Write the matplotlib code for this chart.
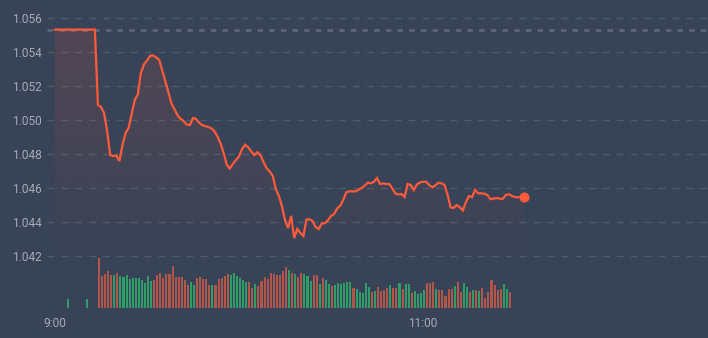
import numpy as np
import matplotlib
matplotlib.use("Agg")
import matplotlib.pyplot as plt
from matplotlib.colors import to_rgb

# ---------------- data ----------------
prev_close = 1.0553
# minute index from 9:00
pre_prices = [1.0553] * 14          # minutes 0..13
prices_main = [                      # minutes 14..153
    1.05086, 1.05075, 1.05039, 1.04934, 1.04792, 1.04786, 1.04789, 1.04757, 1.04851, 1.04922,
    1.04951, 1.05034, 1.05116, 1.05148, 1.05275, 1.05325, 1.05348, 1.05376, 1.05378, 1.05366,
    1.05351, 1.05289, 1.05225, 1.05160, 1.05095, 1.05060, 1.05025, 1.05004, 1.04991, 1.04971,
    1.04969, 1.05010, 1.05004, 1.04982, 1.04969, 1.04962, 1.04957, 1.04949, 1.04932, 1.04901,
    1.04860, 1.04804, 1.04736, 1.04713, 1.04740, 1.04763, 1.04784, 1.04828, 1.04853, 1.04838,
    1.04813, 1.04792, 1.04809, 1.04792, 1.04751, 1.04715, 1.04696, 1.04670, 1.04592, 1.04551,
    1.04492, 1.04410, 1.04363, 1.04434, 1.04304, 1.04357, 1.04334, 1.04316, 1.04413, 1.04414,
    1.04404, 1.04369, 1.04357, 1.04391, 1.04391, 1.04408, 1.04434, 1.04445, 1.04478, 1.04494,
    1.04528, 1.04573, 1.04579, 1.04579, 1.04578, 1.04588, 1.04598, 1.04613, 1.04629, 1.04626,
    1.04635, 1.04657, 1.04622, 1.04625, 1.04622, 1.04622, 1.04595, 1.04566, 1.04560, 1.04563,
    1.04545, 1.04622, 1.04616, 1.04586, 1.04619, 1.04631, 1.04635, 1.04635, 1.04616, 1.04602,
    1.04613, 1.04629, 1.04626, 1.04617, 1.04560, 1.04484, 1.04481, 1.04498, 1.04485, 1.04466,
    1.04516, 1.04551, 1.04545, 1.04587, 1.04567, 1.04567, 1.04565, 1.04557, 1.04532, 1.04536,
    1.04539, 1.04536, 1.04534, 1.04557, 1.04562, 1.04551, 1.04545, 1.04544, 1.04544, 1.04544,
]
prices = pre_prices + prices_main

auction_minutes = [4, 10]
auction_volumes = [8.7, 8.7]
auction_colors = "gg"
volume_start_minute = 14
volumes = [
    50, 31.7, 33.7, 36.7, 32.7, 32.7, 34.7, 31.7, 30.7, 32.7,
    28.7, 29.7, 29.7, 29.7, 27.7, 24.7, 31.7, 26.7, 27.7, 32.7,
    34.7, 29.7, 33.7, 33.7, 41.7, 30.7, 30.7, 30.7, 27.7, 22.7,
    25.7, 22.7, 29.7, 30.7, 28.7, 28.7, 22.7, 22.7, 22.7, 28.7,
    29.7, 31.7, 33.7, 32.7, 34.7, 31.7, 29.7, 27.7, 25.7, 25.7,
    19.7, 23.7, 21.7, 26.7, 30.7, 28.7, 34.7, 33.7, 32.7, 32.7,
    36.7, 40.7, 37.7, 34.7, 33.7, 30.7, 34.7,
    33.7, 31.7, 26.7, 32.7, 32.7, 23.7, 29.7, 27.7, 23.7, 21.7,
    22.7, 24.7, 23.7, 24.7, 25.7, 25.7, 19.7, 18.7, 15.7, 14.7,
    24.7, 20.7, 15.7, 16.7, 20.7, 16.7, 17.7, 19.7, 22.7, 19.7,
    19.7, 24.7, 18.7, 23.7, 23.7, 14.7, 16.7, 13.7, 14.7, 17.7,
    24.7, 24.7, 25.7, 18.7, 17.7, 17.7, 11.7, 18.7, 18.7, 21.7,
    25.7, 15.7, 24.7, 20.7, 15.7, 17.7, 17.7, 16.7, 19.7, 9.7,
    15.7, 27.7, 22.7, 17.7, 18.7, 23.7, 18.7, 15.7,
]
volume_colors = ("rrrrr" "g" "r" "ggggggggggg" "rrrrrrrrrrrr" "gg" "rrrrr" "g" "rrrrr"
                 "gggggg" "rr" "g" "rrrrrrrrrr" "g" "r" "g" "rr"
                 "ggg" "rr" "g" "r" "gg" "r" "gggggg" "r" "ggggg" "r" "g" "rrrr" "g" "rr"
                 "g" "r" "gg" "r" "gggg" "rrr" "g" "rrrrr" "g" "rr" "gg" "r" "g" "r" "g"
                 "rrrrrrr" "gg" "r")

y_ticks = [1.042, 1.044, 1.046, 1.048, 1.050, 1.052, 1.054, 1.056]
x_tick_minutes = [0, 120]
x_tick_labels = ["9:00", "11:00"]

# ---------------- style ----------------
BG = "#394357"
GRID = "#505a6c"
LINE = "#ff5b3b"
TXT = "#a3abb8"
RED = "#b0564b"
GREEN = "#2f9d68"

W, H = 708, 338
fig = plt.figure(figsize=(W / 100, H / 100), dpi=100, facecolor=BG)
left_px, right_px, top_px, bottom_px = 47, 708, 0, 308
ax = fig.add_axes([left_px / W, 1 - bottom_px / H, (right_px - left_px) / W, (bottom_px - top_px) / H])
ax.set_facecolor(BG)

px_per_min = 368 / 120
ax.set_xlim(-(55 - left_px) / px_per_min, (right_px - 55) / px_per_min)
# 1.056 at 17.7px, 17000 px per unit
ax.set_ylim(1.056 - (bottom_px - 17.7) / 17000, 1.056 + 17.7 / 17000)

for s in ax.spines.values():
    s.set_visible(False)

for yv in y_ticks:
    ax.axhline(yv, color=GRID, lw=1.0, ls=(0, (5, 5)), zorder=1)
ax.axhline(prev_close, color="#5c6678", lw=2.0, ls=(0, (2, 2.2)), zorder=1)

minutes = np.arange(len(prices))
prices_arr = np.array(prices)

# gradient fill under line
fill_bottom = 1.0412
poly = ax.fill_between(minutes, prices_arr, fill_bottom, facecolor="none", edgecolor="none")
rgb = to_rgb(LINE)
n = 256
grad = np.zeros((n, 1, 4))
grad[:, 0, 0:3] = rgb
grad[:, 0, 3] = np.linspace(0.13, 0.0, n)
img = ax.imshow(grad, extent=[minutes[0], minutes[-1], fill_bottom, 1.0556],
                aspect="auto", origin="upper", zorder=2, interpolation="bilinear")
img.set_clip_path(poly.get_paths()[0], transform=ax.transData)

ax.plot(minutes, prices_arr, color=LINE, lw=1.6, zorder=4, solid_joinstyle="miter")
ax.plot(minutes[-1], prices_arr[-1], "o", color=LINE, ms=6.2, mec=LINE, zorder=5)

ax.set_yticks(y_ticks)
ax.set_yticklabels([f"{v:.3f}" for v in y_ticks])
ax.set_xticks(x_tick_minutes)
ax.set_xticklabels(x_tick_labels)
ax.tick_params(axis="both", length=0, colors=TXT, labelsize=8.6)
ax.tick_params(axis="y", pad=4)
ax.tick_params(axis="x", pad=6.5)
for lab in ax.get_xticklabels() + ax.get_yticklabels():
    lab.set_fontfamily("Roboto")

# volume bars
vax = ax.twinx()
vax.set_ylim(0, 50 * (bottom_px - top_px) / 50.3)
vax.set_axis_off()
cmap = {"r": RED, "g": GREEN}
vol_minutes = list(range(volume_start_minute, volume_start_minute + len(volumes)))
all_m = auction_minutes + vol_minutes
all_v = auction_volumes + volumes
all_c = [cmap[c] for c in auction_colors + volume_colors]
vax.bar(all_m, all_v, width=0.68, align="edge", color=all_c, linewidth=0, zorder=3)
vax.set_xlim(ax.get_xlim())

fig.savefig("out.png", dpi=100, facecolor=BG)
